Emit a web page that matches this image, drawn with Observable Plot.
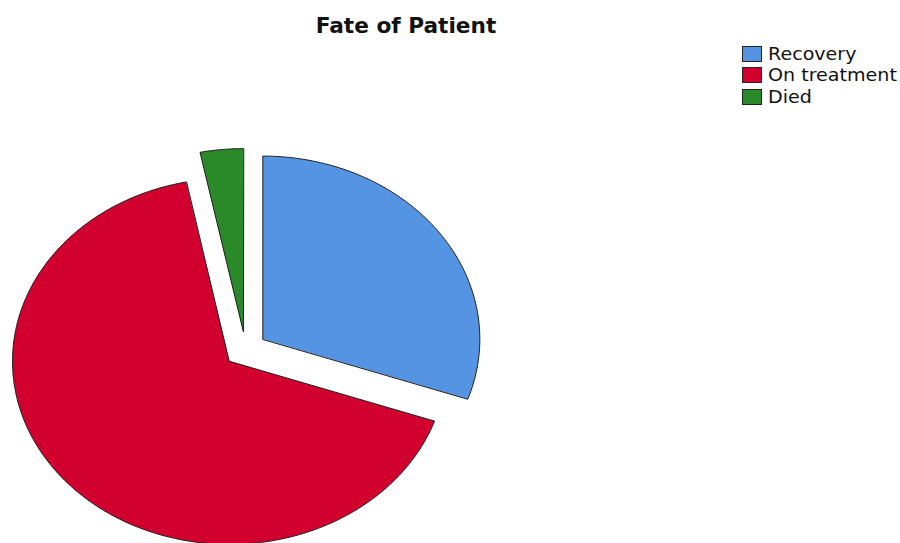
<!DOCTYPE html>
<html>
<head>
<meta charset="utf-8">
<script src="https://cdn.jsdelivr.net/npm/d3@7"></script>
<script src="https://cdn.jsdelivr.net/npm/@observablehq/plot@0.6"></script>
<style>
  html, body { margin: 0; padding: 0; background: #fff; }
  #wrap { position: relative; width: 900px; height: 543px; overflow: hidden; font-family: "DejaVu Sans", sans-serif; }
  #title { position: absolute; left: 406px; top: 14px; white-space: nowrap; font-weight: bold; font-size: 21px; color: #111; transform: translateX(-50%) scaleX(1.03); }
  #legend { position: absolute; left: 742px; top: 43px; }
  .row { display: flex; align-items: center; height: 21.5px; }
  .sw { width: 20px; height: 16px; box-sizing: border-box; border: 1px solid #222; margin-right: 6px; flex: none; }
  .lab { font-size: 18px; color: #111; line-height: 18px; white-space: nowrap; transform: scaleX(1.06); transform-origin: left center; }
  #chart { position: absolute; left: 0; top: 0; }
</style>
</head>
<body>
<div id="wrap">
  <div id="chart"></div>
  <div id="title">Fate of Patient</div>
  <div id="legend"></div>
</div>
<script>
const categories = ["Recovery", "On treatment", "Died"];
const values = [30.3, 66.5, 3.2];
const colors = ["#5594e2", "#d2002f", "#2a8a2a"];
const explode = [0.098, 0.098, 0.098];

const arcs = d3.pie().sort(null)(values);
const marks = arcs.map((a, i) => {
  const mid = (a.startAngle + a.endAngle) / 2;
  const ox = explode[i] * Math.sin(mid), oy = explode[i] * Math.cos(mid);
  const pts = [{x: ox, y: oy}];
  const n = Math.max(8, Math.ceil((a.endAngle - a.startAngle) / 0.01));
  for (let k = 0; k <= n; k++) {
    const t = a.startAngle + (a.endAngle - a.startAngle) * k / n;
    pts.push({x: ox + Math.sin(t), y: oy + Math.cos(t)});
  }
  return Plot.line(pts, {x: "x", y: "y", fill: colors[i], stroke: "#1c1c1c", strokeWidth: 1, curve: "linear-closed"});
});

const chart = Plot.plot({
  width: 900,
  height: 543,
  margin: 0,
  x: {domain: [-1, 1], range: [28, 462], axis: null},
  y: {domain: [-1, 1], range: [532, 166], axis: null},
  marks
});
document.getElementById("chart").appendChild(chart);

const legend = document.getElementById("legend");
categories.forEach((c, i) => {
  const row = document.createElement("div");
  row.className = "row";
  row.innerHTML = `<div class="sw" style="background:${colors[i]}"></div><div class="lab">${c}</div>`;
  legend.appendChild(row);
});
</script>
</body>
</html>
